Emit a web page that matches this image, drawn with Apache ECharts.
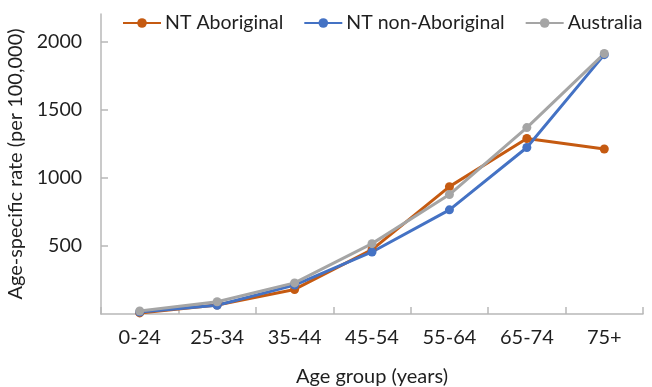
<!DOCTYPE html>
<html><head><meta charset="utf-8">
<script src="https://cdn.jsdelivr.net/npm/echarts@6/dist/echarts.min.js"></script>
<style>html,body{margin:0;padding:0;background:#fff}#c{width:652px;height:387px}</style>
</head><body><div id="c"></div>
<script>
var categories = ['0-24','25-34','35-44','45-54','55-64','65-74','75+'];
var ntAboriginal = [8, 66, 180, 472, 934, 1287, 1210];
var ntNonAboriginal = [15, 64, 212, 455, 764, 1221, 1902];
var australia = [22, 90, 228, 516, 876, 1367, 1910];
var seriesNames = ['NT Aboriginal', 'NT non-Aboriginal', 'Australia'];
var yTickLabels = [500, 1000, 1500, 2000];
var colors = ['#C55A11', '#4472C4', '#A5A5A5'];
var FONT = 'Lato';
var TXT = '#1F1F1F';
var AX = '#B8B8B8';
var chart = echarts.init(document.getElementById('c'));
function mk(name, data, color) {
  return {name: name, type: 'line', data: data, symbol: 'circle', symbolSize: 9,
    itemStyle: {color: color}, lineStyle: {color: color, width: 3}};
}
chart.setOption({
  animation: false,
  textStyle: {fontFamily: FONT},
  legend: {left: 122, top: 13, padding: 0, width: 560, orient: 'horizontal', itemWidth: 38, itemHeight: 12, itemGap: 20,
    textStyle: {fontFamily: FONT, fontSize: 19.5, color: TXT, padding: [0,0,0,-1]}},
  grid: {left: 101, right: 9, top: 14, bottom: 73, outerBoundsMode: 'none', containLabel: false},
  xAxis: {type: 'category', data: categories, boundaryGap: true,
    name: 'Age group (years)', nameLocation: 'middle', nameGap: 53,
    nameTextStyle: {fontFamily: FONT, fontSize: 20, color: TXT},
    axisLine: {lineStyle: {color: AX, width: 1.5}},
    axisTick: {show: true, inside: true, length: 7, lineStyle: {color: AX, width: 1.5}},
    axisLabel: {fontFamily: FONT, fontSize: 20, color: TXT, margin: 14}},
  yAxis: {type: 'value', min: 0, max: 2200, interval: 500,
    name: 'Age-specific rate (per 100,000)', nameLocation: 'middle', nameGap: 60,
    nameTextStyle: {fontFamily: FONT, fontSize: 20, color: TXT},
    splitLine: {show: false},
    axisLine: {show: true, lineStyle: {color: AX, width: 1.5}},
    axisTick: {show: true, inside: true, length: 7, lineStyle: {color: AX, width: 1.5}},
    axisLabel: {fontFamily: FONT, fontSize: 19.5, color: TXT, margin: 19,
      showMinLabel: false, showMaxLabel: false,
      formatter: function(v){ return yTickLabels.indexOf(v) >= 0 ? String(v) : ''; }}},
  series: [mk(seriesNames[0], ntAboriginal, colors[0]), mk(seriesNames[1], ntNonAboriginal, colors[1]), mk(seriesNames[2], australia, colors[2])]
});
</script></body></html>
